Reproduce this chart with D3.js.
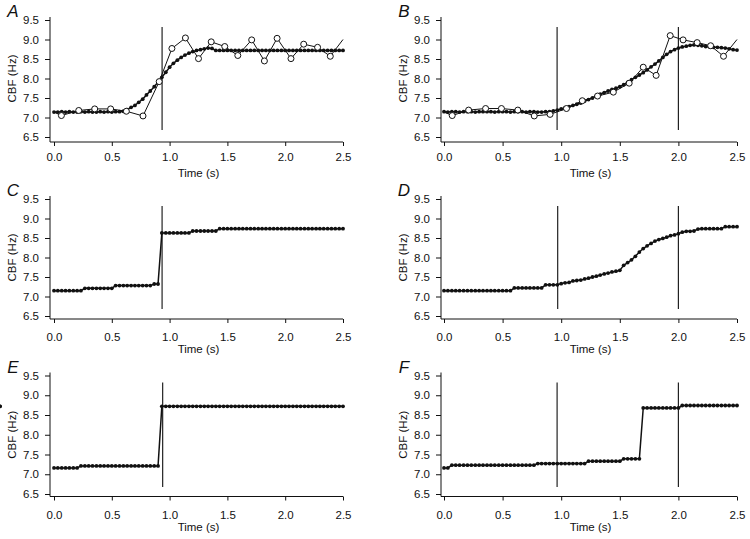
<!DOCTYPE html>
<html><head><meta charset="utf-8">
<script src="https://cdn.jsdelivr.net/npm/d3@7"></script>
<style>
body{margin:0;background:#fff}
svg{display:block}
text{font-family:"Liberation Sans",Arial,Helvetica,sans-serif;fill:#111}
</style></head>
<body><svg id="chart" width="750" height="539"></svg>
<script>
// ---- data ----
const frameTimes = [0,0.033,0.067,0.1,0.133,0.167,0.2,0.233,0.267,0.3,0.333,0.367,0.4,0.433,0.467,0.5,0.533,0.567,0.6,0.633,0.667,0.7,0.733,0.767,0.8,0.833,0.867,0.9,0.933,0.967,1.0,1.033,1.067,1.1,1.133,1.167,1.2,1.233,1.267,1.3,1.333,1.367,1.4,1.433,1.467,1.5,1.533,1.567,1.6,1.633,1.667,1.7,1.733,1.767,1.8,1.833,1.867,1.9,1.933,1.967,2.0,2.033,2.067,2.1,2.133,2.167,2.2,2.233,2.267,2.3,2.333,2.367,2.4,2.433,2.467,2.5];

const cbfA = [7.14,7.14,7.15,7.14,7.15,7.14,7.14,7.15,7.14,7.15,7.14,7.14,7.15,7.14,7.15,7.14,7.15,7.15,7.16,
  7.20,7.26,7.31,7.39,7.47,7.58,7.68,7.79,7.91,8.03,8.16,8.29,8.39,8.47,8.54,8.60,8.65,8.69,8.72,8.74,8.76,8.78,8.77,
  8.72,8.72,8.72,8.72,8.72,8.72,8.72,8.72,8.72,8.72,8.72,8.72,8.72,8.72,8.72,8.72,8.72,8.72,8.72,8.72,8.72,8.72,8.72,8.72,8.72,8.72,8.72,8.72,8.72,8.72,8.72,8.72,8.72,8.72];
const cbfB = [7.15,7.14,7.15,7.15,7.14,7.15,7.15,7.15,7.14,7.15,7.15,7.15,7.15,7.14,7.15,7.15,7.15,7.14,7.15,7.15,7.15,7.14,7.15,7.15,7.14,7.14,7.15,7.15,
  7.17,7.19,7.22,7.25,7.28,7.31,7.34,7.37,7.42,7.46,7.50,7.55,7.60,7.64,7.68,7.72,7.75,7.79,7.84,7.90,7.97,8.03,8.09,8.15,8.22,8.30,8.37,8.45,8.54,8.62,8.69,8.74,
  8.78,8.81,8.83,8.85,8.86,8.85,8.84,8.82,8.81,8.80,8.80,8.79,8.78,8.76,8.74,8.73];
const cbfC = [7.15,7.15,7.15,7.15,7.15,7.15,7.15,7.15,
  7.21,7.21,7.21,7.21,7.21,7.21,7.21,7.21,
  7.28,7.28,7.28,7.28,7.28,7.28,7.28,7.28,7.28,7.28,
  7.32,7.32,
  8.63,8.63,8.63,8.63,8.63,8.63,8.63,8.63,
  8.68,8.68,8.68,8.68,8.68,8.68,8.68,
  8.74,8.74,8.74,8.74,8.74,8.74,8.74,8.74,8.74,8.74,8.74,8.74,8.74,8.74,8.74,8.74,8.74,8.74,8.74,8.74,8.74,8.74,8.74,8.74,8.74,8.74,8.74,8.74,8.74,8.74,8.74,8.74,8.74];
const cbfD = [7.15,7.15,7.15,7.15,7.15,7.15,7.15,7.15,7.15,7.15,7.15,7.15,7.15,7.15,7.15,7.15,7.15,7.15,
  7.22,7.22,7.22,7.22,7.22,7.22,7.22,7.22,
  7.30,7.30,7.30,7.30,
  7.33,7.35,7.36,7.40,7.41,7.42,7.45,7.47,7.50,7.52,7.55,7.58,7.60,7.63,7.65,7.67,
  7.80,7.87,7.94,8.03,8.14,8.23,8.30,8.36,8.42,8.46,8.49,8.52,8.56,8.58,8.61,8.65,8.67,8.67,8.68,8.73,8.74,
  8.74,8.74,8.74,8.74,8.74,
  8.79,8.79,8.79,8.79];
const cbfE = [7.16,7.16,7.16,7.16,7.16,7.16,7.16,
  7.21,7.21,7.21,7.21,7.21,7.21,7.21,7.21,7.21,7.21,7.21,7.21,7.21,7.21,7.21,7.21,7.21,7.21,7.21,7.21,7.21,
  8.72,8.72,8.72,8.72,8.72,8.72,8.72,8.72,8.72,8.72,8.72,8.72,8.72,8.72,8.72,8.72,8.72,8.72,8.72,8.72,8.72,8.72,8.72,8.72,8.72,8.72,
  8.72,8.72,8.72,8.72,8.72,8.72,8.72,8.72,8.72,8.72,8.72,8.72,8.72,8.72,8.72,8.72,8.72,8.72,8.72,8.72,8.72,8.72,8.72,8.72];
const cbfF = [7.16,7.16,
  7.23,7.23,7.23,7.23,7.23,7.23,7.23,7.23,7.23,7.23,7.23,7.23,7.23,7.23,7.23,7.23,7.23,7.23,7.23,7.23,7.23,7.23,
  7.27,7.27,7.27,7.27,7.27,7.27,7.27,7.27,7.27,7.27,7.27,7.27,7.27,
  7.33,7.33,7.33,7.33,7.33,7.33,7.33,7.33,7.33,
  7.39,7.39,7.39,7.39,7.39,
  8.68,8.68,8.68,8.68,8.68,8.68,8.68,8.68,8.68,8.68,
  8.74,8.74,8.74,8.74,8.74,8.74,8.74,8.74,8.74,8.74,8.74,8.74,8.74,8.74,8.74];

// sparse (open circle) measurements
const openTimesA = [0,0.064,0.214,0.352,0.49,0.626,0.77,0.91,1.02,1.137,1.25,1.36,1.477,1.59,1.71,1.82,1.93,2.05,2.16,2.28,2.39,2.5];
const openValuesA = [7.14,7.05,7.18,7.22,7.22,7.16,7.04,7.92,8.77,9.04,8.51,8.94,8.82,8.59,8.99,8.45,9.03,8.51,8.88,8.80,8.57,9.0];
const openTimesB = [0,0.07,0.21,0.355,0.49,0.63,0.77,0.905,1.045,1.18,1.31,1.445,1.58,1.70,1.81,1.93,2.04,2.16,2.275,2.385,2.5];
const openValuesB = [7.14,7.05,7.19,7.23,7.23,7.19,7.04,7.08,7.23,7.43,7.55,7.65,7.88,8.29,8.08,9.10,8.99,8.92,8.84,8.57,9.0];

// stimulus marker times
const markersA = [0.935];
const markersB = [0.965, 2.0];
const markersC = [0.935];
const markersD = [0.97, 2.0];
const markersE = [0.94];
const markersF = [0.965, 2.0];

const panelLabels = ["A","B","C","D","E","F"];
const xTickValues = [0,0.5,1.0,1.5,2.0,2.5];
const yTickValues = [6.5,7.0,7.5,8.0,8.5,9.0,9.5];
const xTitle = "Time (s)";
const yTitle = "CBF (Hz)";

// ---- layout ----
const cols = [{axisX:50, x0:54, x1:343},{axisX:441, x0:444, x1:737}];
const rows = [
  {top:20, bottom:137, axisY:142, labelC:156.5, titleC:173},
  {top:199, bottom:316, axisY:319, labelC:337, titleC:349},
  {top:375.5, bottom:494, axisY:496.5, labelC:515, titleC:527}
];

const panels = [
  {label:panelLabels[0], r:0, c:0, vals:cbfA, openT:openTimesA, openV:openValuesA, markers:markersA},
  {label:panelLabels[1], r:0, c:1, vals:cbfB, openT:openTimesB, openV:openValuesB, markers:markersB},
  {label:panelLabels[2], r:1, c:0, vals:cbfC, markers:markersC},
  {label:panelLabels[3], r:1, c:1, vals:cbfD, markers:markersD},
  {label:panelLabels[4], r:2, c:0, vals:cbfE, markers:markersE},
  {label:panelLabels[5], r:2, c:1, vals:cbfF, markers:markersF}
];

const svg = d3.select("#chart");
const ink = "#111";
const fmt = d3.format(".1f");

panels.forEach(p => {
  const col = cols[p.c], row = rows[p.r];
  const x = d3.scaleLinear().domain([0,2.5]).range([col.x0, col.x1]);
  const y = d3.scaleLinear().domain([6.5,9.5]).range([row.bottom, row.top]);
  const g = svg.append("g");

  // axes lines
  g.append("line").attr("x1",col.axisX).attr("x2",col.axisX)
    .attr("y1",row.top-3).attr("y2",row.axisY).attr("stroke",ink).attr("stroke-width",1);
  g.append("line").attr("x1",col.axisX).attr("x2",col.x1)
    .attr("y1",row.axisY).attr("y2",row.axisY).attr("stroke",ink).attr("stroke-width",1);

  const ya = g.append("g").attr("transform",`translate(${col.axisX},0)`)
    .call(d3.axisLeft(y).tickValues(yTickValues).tickFormat(fmt).tickSize(5).tickPadding(6));
  ya.select(".domain").remove();
  ya.selectAll("text").attr("font-size",11.5).style("font-family",'"Liberation Sans",Arial,sans-serif').attr("fill",ink);
  ya.selectAll("line").attr("stroke",ink);

  const xPad = row.labelC - row.axisY - 4 - 4;
  const xa = g.append("g").attr("transform",`translate(0,${row.axisY})`)
    .call(d3.axisBottom(x).tickValues(xTickValues).tickFormat(fmt).tickSize(4).tickPadding(xPad));
  xa.select(".domain").remove();
  xa.selectAll("text").attr("font-size",11.5).style("font-family",'"Liberation Sans",Arial,sans-serif').attr("fill",ink);
  xa.selectAll("line").attr("stroke",ink);

  // titles
  g.append("text").attr("x",(col.x0+col.x1)/2).attr("y",row.titleC).attr("dy","0.35em")
    .attr("text-anchor","middle").attr("font-size",11.5).text(xTitle);
  g.append("text").attr("transform",`translate(${col.axisX-38},${(row.top+row.bottom)/2}) rotate(-90)`)
    .attr("dy","0.35em").attr("text-anchor","middle").attr("font-size",11.5).text(yTitle);
  g.append("text").attr("x",col.axisX-37).attr("y",row.top-9).attr("dy","0.36em")
    .attr("text-anchor","middle").attr("font-size",17).attr("font-style","italic").text(p.label);

  // stimulus markers
  g.selectAll(".mk").data(p.markers).enter().append("line")
    .attr("x1",d=>x(d)).attr("x2",d=>x(d)).attr("y1",y(9.32)).attr("y2",y(6.68))
    .attr("stroke","#222").attr("stroke-width",1.2);

  // continuous series
  const pts = p.vals.map((v,i)=>[frameTimes[i], v]);
  const line = d3.line().x(d=>x(d[0])).y(d=>y(d[1]));
  g.append("path").datum(pts).attr("d",line).attr("fill","none").attr("stroke",ink).attr("stroke-width",1.5);
  g.selectAll(".dot").data(pts).enter().append("circle")
    .attr("cx",d=>x(d[0])).attr("cy",d=>y(d[1])).attr("r",1.9).attr("fill",ink);

  // sparse series
  if (p.openT) {
    const op = p.openT.map((t,i)=>[t, p.openV[i]]);
    g.append("path").datum(op).attr("d",line).attr("fill","none").attr("stroke",ink).attr("stroke-width",1);
    g.selectAll(".od").data(op.slice(1, op.length-1)).enter().append("circle")
      .attr("cx",d=>x(d[0])).attr("cy",d=>y(d[1])).attr("r",3).attr("fill","#fff")
      .attr("stroke",ink).attr("stroke-width",1);
  }
});
</script></body></html>
